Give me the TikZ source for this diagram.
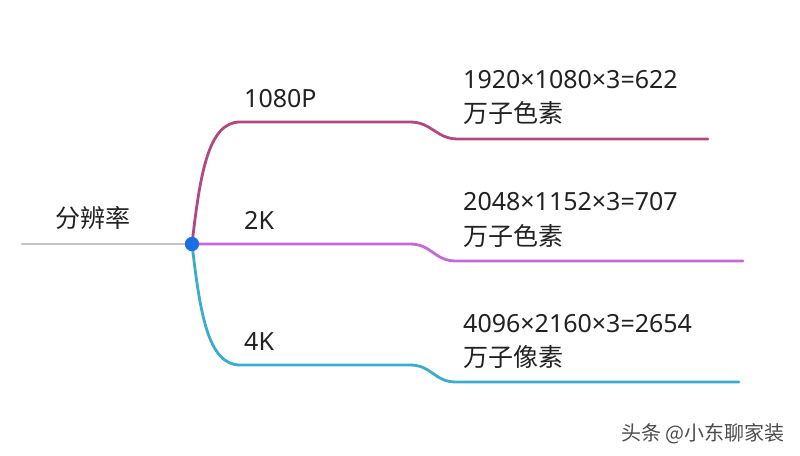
\documentclass[tikz,border=0pt]{standalone}
\usepackage{fontspec}
\setmainfont{Noto Sans CJK SC}
\newfontfamily\lat{Noto Sans}
\definecolor{gline}{HTML}{C4C4C6}
\definecolor{dotblue}{HTML}{1A6FE6}
\definecolor{cA}{HTML}{B2497E}
\definecolor{cB}{HTML}{C46AD6}
\definecolor{cC}{HTML}{3AACCC}
\definecolor{txt}{HTML}{222222}
\tikzset{
  lbl/.style={anchor=base west, inner sep=0pt, font=\fontsize{25}{28}\selectfont, text=txt},
  num/.style={lbl, font=\lat\fontsize{25}{28}\selectfont},
  br/.style={line width=2.8pt, line cap=round},
}
\begin{document}
\begin{tikzpicture}[x=1pt,y=-1pt]
\useasboundingbox[fill=white] (0,0) rectangle (800,455);
% root
\coordinate (r0) at (22,244);
\node[circle, fill=dotblue, minimum size=14pt, inner sep=0pt] (dot) at (192,244) {};
\draw[br, gline] (r0) -- (dot.center);
\node[lbl] (root) at (55,227) {分辨率};
% 1080P
\coordinate (a1) at (240,122);
\coordinate (a2) at (410,122);
\coordinate (a3) at (458,139);
\coordinate (a4) at (708,139);
\draw[br, cA] (dot.center) .. controls (200,175) and (208,122) .. (a1) -- (a2)
  .. controls (432,122) and (436,139) .. (a3) -- (a4);
% 2K
\coordinate (b2) at (410,244);
\coordinate (b3) at (456,261);
\coordinate (b4) at (743,261);
\draw[br, cB] (dot.center) -- (b2)
  .. controls (432,244) and (434,261) .. (b3) -- (b4);
% 4K
\coordinate (c1) at (240,365);
\coordinate (c2) at (410,365);
\coordinate (c3) at (456,382);
\coordinate (c4) at (739,382);
\draw[br, cC] (dot.center) .. controls (200,313) and (208,365) .. (c1) -- (c2)
  .. controls (432,365) and (434,382) .. (c3) -- (c4);
\node[circle, fill=dotblue, minimum size=14pt, inner sep=0pt] at (dot.center) {};
% labels
\node[num] (l1) at (244,107) {1080P};
\node[num] (l2) at (244,229) {2K};
\node[num] (l3) at (244,350) {4K};
\node[num] (f1) at (463,88) {1920×1080×3=622};
\node[lbl] (g1) at (463,122) {万子色素};
\node[num] (f2) at (463,210) {2048×1152×3=707};
\node[lbl] (g2) at (463,245) {万子色素};
\node[num] (f3) at (463,332) {4096×2160×3=2654};
\node[lbl] (g3) at (463,366) {万子像素};
% watermark
\node[anchor=base west, inner sep=0pt, font=\fontsize{20}{22}\selectfont, text=black!70] (wm) at (621,440) {头条 @小东聊家装};
\end{tikzpicture}
\end{document}
